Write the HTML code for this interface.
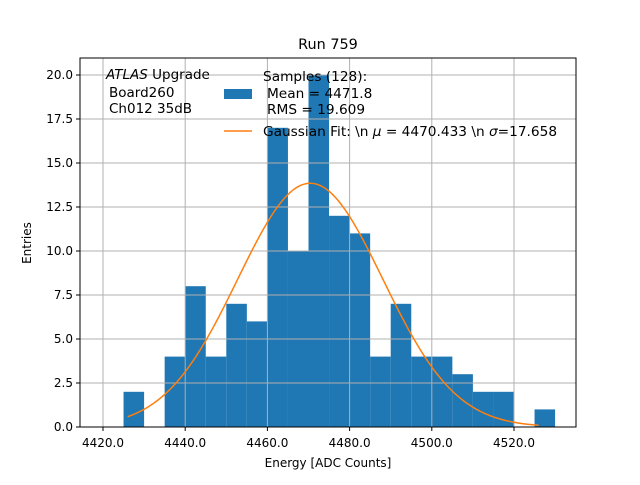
<!DOCTYPE html>
<html><head><meta charset="utf-8"><style>
body{margin:0;background:#fff;}
svg text{font-family:"DejaVu Sans","Liberation Sans",sans-serif;white-space:pre;}
</style></head><body>
<svg id="chart" width="640" height="480" xmlns="http://www.w3.org/2000/svg">
<rect width="640" height="480" fill="#fff"/>
<g id="bars"></g><g id="grid"></g><g id="fit"></g><g id="axes"></g>
<text x="328" y="49" font-size="14.4" text-anchor="middle">Run 759</text>
<text x="328" y="467" font-size="12" text-anchor="middle">Energy [ADC Counts]</text>
<text x="31" y="243" font-size="12" text-anchor="middle" transform="rotate(-90 31 243)">Entries</text>
<g font-size="13.5">
<text x="106" y="79"><tspan font-style="italic">ATLAS</tspan> Upgrade</text>
<text x="109" y="97">Board260</text>
<text x="109" y="113">Ch012 35dB</text>
</g>
<g font-size="13.7">
<rect x="224" y="89" width="28" height="10" fill="#1f77b4"/>
<text x="263" y="81">Samples (128):</text>
<text x="267" y="98">Mean = 4471.8</text>
<text x="267" y="114">RMS = 19.609</text>
<line x1="224" y1="131" x2="252" y2="131" stroke="#ff7f0e" stroke-width="1.5"/>
<text x="263" y="136">Gaussian Fit: \n <tspan font-style="italic">μ</tspan> = 4470.433 \n <tspan font-style="italic">σ</tspan>=17.658</text>
</g>
</svg>
<script>
const binStarts=[4425,4430,4435,4440,4445,4450,4455,4460,4465,4470,4475,4480,4485,4490,4495,4500,4505,4510,4515,4520,4525];
const counts=[2,0,4,8,4,7,6,17,10,20,12,11,4,7,4,4,3,2,2,0,1];
const binWidth=5;
const fitMu=4470.433, fitSigma=17.658, fitPeak=13.85;
const fitStart=4426, fitEnd=4526;
const xTicks=[4420,4440,4460,4480,4500,4520];
const yTicks=[0,2.5,5,7.5,10,12.5,15,17.5,20];
const L=80,R=576,T=58,B=427;
const x=v=>103+(v-4420)*4.11;
const y=v=>427-v*17.6;
const NS='http://www.w3.org/2000/svg';
function mk(t,a,p){const e=document.createElementNS(NS,t);for(const k in a)e.setAttribute(k,a[k]);p.appendChild(e);return e;}
const bars=document.getElementById('bars'),grid=document.getElementById('grid'),fit=document.getElementById('fit'),axes=document.getElementById('axes');
binStarts.forEach((s,i)=>{if(!counts[i])return;
 const r=mk('rect',{x:x(s),y:y(counts[i]),width:x(s+binWidth)-x(s),height:y(0)-y(counts[i]),fill:'#1f77b4'},bars);
 
 });
xTicks.forEach(t=>{const l=mk('line',{x1:x(t),x2:x(t),y1:T,y2:B,stroke:'#b0b0b0','stroke-width':1},grid);
 
 
 mk('line',{x1:x(t),x2:x(t),y1:B,y2:B+4,stroke:'#000'},axes);
 const tx=mk('text',{x:x(t),y:B+20,'font-size':12,'text-anchor':'middle'},axes);tx.textContent=t.toFixed(1);
 
 });
yTicks.forEach(t=>{const l=mk('line',{x1:L,x2:R,y1:y(t),y2:y(t),stroke:'#b0b0b0','stroke-width':1},grid);
 
 
 mk('line',{x1:L-4,x2:L,y1:y(t),y2:y(t),stroke:'#000'},axes);
 const tx=mk('text',{x:L-7,y:y(t)+4,'font-size':12,'text-anchor':'end'},axes);tx.textContent=t.toFixed(1);
 
 });
let pts=[];for(let i=0;i<=200;i++){const v=fitStart+(fitEnd-fitStart)*i/200;pts.push(x(v).toFixed(2)+','+y(fitPeak*Math.exp(-((v-fitMu)**2)/(2*fitSigma*fitSigma))).toFixed(2));}
const pl=mk('polyline',{points:pts.join(' '),fill:'none',stroke:'#ff7f0e','stroke-width':1.5},fit);


const fr=mk('rect',{x:L,y:T,width:R-L,height:B-T,fill:'none',stroke:'#000','stroke-width':1},axes);


</script>
</body></html>
